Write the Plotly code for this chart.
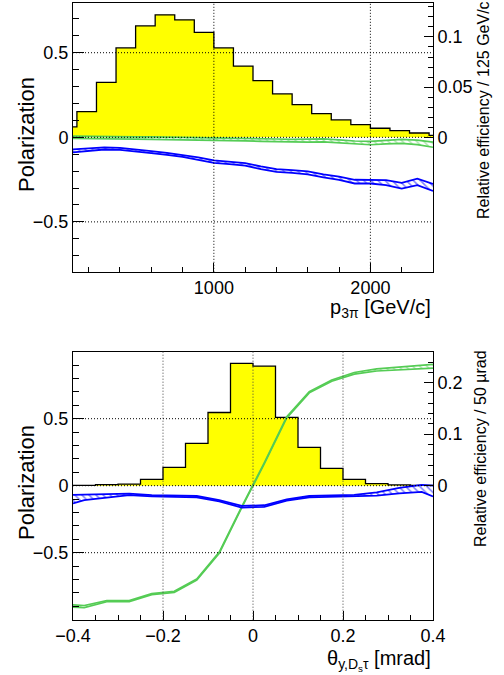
import numpy as np
import plotly.graph_objects as go

# ---------------- top panel data (p_3pi) ----------------
p_bin_lo = 0.0
p_bin_w = 125.0
eff_p = [0.0103, 0.0256, 0.0547, 0.089, 0.111, 0.122, 0.117, 0.1046, 0.089, 0.071,
         0.0564, 0.0432, 0.0325, 0.0236, 0.0173, 0.0126, 0.009, 0.0066, 0.0043, 0.002]
p_pts = [100, 200, 300, 400, 500, 600, 700, 800, 900, 1000, 1100, 1200,
         1300, 1400, 1500, 1600, 1700, 1800, 1900, 2000, 2100, 2200, 2300, 2400]
pol_blue_p = [-0.08, -0.072, -0.066, -0.068, -0.076, -0.088, -0.098, -0.11, -0.126, -0.144, -0.152, -0.16,
              -0.18, -0.196, -0.202, -0.21, -0.228, -0.242, -0.262, -0.262, -0.268, -0.286, -0.264, -0.296]
err_blue_p = [0.009, 0.007, 0.006, 0.006, 0.006, 0.006, 0.006, 0.006, 0.007, 0.007, 0.007, 0.007,
              0.008, 0.008, 0.008, 0.009, 0.009, 0.01, 0.011, 0.011, 0.015, 0.017, 0.019, 0.021]
pol_green_p = [0.0, 0.0, -0.002, -0.003, -0.004, -0.005, -0.006, -0.007, -0.008, -0.01, -0.012, -0.014,
               -0.016, -0.018, -0.02, -0.02, -0.018, -0.024, -0.032, -0.034, -0.028, -0.024, -0.03, -0.044]
err_green_p = [0.007, 0.007, 0.007, 0.007, 0.007, 0.007, 0.007, 0.007, 0.007, 0.007, 0.007, 0.007,
               0.008, 0.008, 0.008, 0.008, 0.009, 0.009, 0.01, 0.01, 0.011, 0.012, 0.013, 0.015]

# ---------------- bottom panel data (theta) ----------------
t_bin_lo = -0.4
t_bin_w = 0.05
eff_t = [0.0005, 0.002, 0.0032, 0.0123, 0.0356, 0.082, 0.142, 0.2375,
         0.232, 0.1327, 0.0744, 0.0336, 0.0123, 0.0039, 0.0015, 0.0006]
t_pts = [-0.4, -0.375, -0.325, -0.275, -0.225, -0.175, -0.125, -0.075, -0.025,
         0.025, 0.075, 0.125, 0.175, 0.225, 0.275, 0.325, 0.375, 0.4]
pol_green_t = [-0.898, -0.902, -0.862, -0.862, -0.809, -0.792, -0.70, -0.50, -0.16,
               0.167, 0.51, 0.697, 0.784, 0.839, 0.864, 0.876, 0.888, 0.892]
err_green_t = [0.008, 0.008, 0.004, 0.004, 0.004, 0.004, 0.004, 0.004, 0.004,
               0.004, 0.004, 0.004, 0.005, 0.006, 0.008, 0.01, 0.012, 0.014]
pol_blue_t = [-0.1, -0.087, -0.077, -0.065, -0.075, -0.077, -0.082, -0.112, -0.157,
              -0.152, -0.107, -0.082, -0.077, -0.075, -0.062, -0.037, -0.02, -0.04]
err_blue_t = [0.032, 0.02, 0.012, 0.006, 0.005, 0.005, 0.005, 0.005, 0.006,
              0.006, 0.005, 0.005, 0.005, 0.006, 0.012, 0.02, 0.026, 0.04]

BLUE = "#0000ff"
GREEN = "#55cc55"
YELLOW = "#ffff00"
FONT = "Liberation Sans, Arial, sans-serif"

fig = go.Figure()


def add_hist(lo, w, vals, xa, ya):
    n = len(vals)
    edges = [lo + w * i for i in range(n + 1)]
    xs = [edges[0]] + edges[:-1] + [edges[-1], edges[-1]]
    ys = [0.0] + list(vals) + [vals[-1], 0.0]
    fig.add_trace(go.Scatter(x=xs, y=ys, mode="lines", line=dict(color="black", width=1.3, shape="hv"),
                             fill="tozeroy", fillcolor=YELLOW, xaxis=xa, yaxis=ya,
                             showlegend=False, hoverinfo="skip"))


def add_band(x, c, e, color, xa, ya, lw, hatch):
    c = np.array(c); e = np.array(e)
    fig.add_trace(go.Scatter(x=x, y=c - e, mode="lines", line=dict(color=color, width=lw),
                             xaxis=xa, yaxis=ya, showlegend=False, hoverinfo="skip"))
    fig.add_trace(go.Scatter(x=x, y=c + e, mode="lines", line=dict(color=color, width=lw),
                             fill="tonexty", fillcolor="rgba(0,0,0,0)",
                             fillpattern=dict(shape=hatch, fgcolor=color, bgcolor="rgba(0,0,0,0)",
                                              size=5, solidity=0.3),
                             xaxis=xa, yaxis=ya, showlegend=False, hoverinfo="skip"))


# top
add_hist(p_bin_lo, p_bin_w, eff_p, "x", "y")
add_band(p_pts, pol_green_p, err_green_p, GREEN, "x", "y2", 1.7, "\\")
add_band(p_pts, pol_blue_p, err_blue_p, BLUE, "x", "y2", 1.8, "\\")
# bottom
add_hist(t_bin_lo, t_bin_w, eff_t, "x2", "y3")
add_band(t_pts, pol_green_t, err_green_t, GREEN, "x2", "y4", 1.7, "\\")
add_band(t_pts, pol_blue_t, err_blue_t, BLUE, "x2", "y4", 1.8, "\\")

H = 675.0
top_dom = [1 - 271.8 / H, 1 - 2.8 / H]
bot_dom = [1 - 619.7 / H, 1 - 351.7 / H]

tickfont = dict(family=FONT, size=18, color="black")
common_x = dict(showline=True, linecolor="black", linewidth=1, mirror=True, ticks="inside",
                ticklen=9, tickcolor="black", showgrid=False, zeroline=False, tickfont=tickfont)
common_pol = dict(showline=True, linecolor="black", linewidth=1, ticks="inside", ticklen=11,
                  tickcolor="black", showgrid=False, zeroline=False, tickfont=tickfont, side="left",
                  tickvals=[-0.5, 0, 0.5],
                  minor=dict(dtick=0.1, tick0=0, ticks="inside", ticklen=6, tickcolor="black"))
common_eff = dict(showline=True, linecolor="black", linewidth=1, ticks="inside", ticklen=9,
                  tickcolor="black", showgrid=False, zeroline=False, tickfont=tickfont, side="right")

p_xticks = [1000, 2000]
t_xticks = [-0.4, -0.2, 0, 0.2, 0.4]
eff_p_ticks = [0, 0.05, 0.1]
eff_t_ticks = [0, 0.1, 0.2]

fig.update_layout(
    width=504, height=675,
    margin=dict(l=73, r=71, t=0, b=0),
    paper_bgcolor="white", plot_bgcolor="white",
    font=dict(family=FONT, color="black"),
    xaxis=dict(domain=[0, 1], anchor="y", range=[100, 2400], tickvals=p_xticks,
               minor=dict(dtick=200, tick0=0, ticks="inside", ticklen=5, tickcolor="black"), **common_x),
    yaxis=dict(domain=top_dom, anchor="x", range=[-0.134, 0.134], tickvals=eff_p_ticks,
               minor=dict(tickvals=[round(0.01 * i, 2) for i in range(14)], ticks="inside",
                          ticklen=5, tickcolor="black"), **common_eff),
    yaxis2=dict(overlaying="y", anchor="x", range=[-0.795, 0.795], **common_pol),
    xaxis2=dict(domain=[0, 1], anchor="y3", range=[-0.4, 0.4], tickvals=t_xticks,
                minor=dict(dtick=0.05, tick0=0, ticks="inside", ticklen=5, tickcolor="black"), **common_x),
    yaxis3=dict(domain=bot_dom, anchor="x2", range=[-0.26, 0.26], tickvals=eff_t_ticks,
                minor=dict(tickvals=[round(0.02 * i, 2) for i in range(14)], ticks="inside",
                           ticklen=5, tickcolor="black"), **common_eff),
    yaxis4=dict(overlaying="y3", anchor="x2", range=[-1.0, 1.0], **common_pol),
)

# dotted grid drawn above the filled histogram
shapes = []
for v in p_xticks:
    shapes.append(dict(type="line", xref="x", yref="y domain", x0=v, x1=v, y0=0, y1=1,
                       line=dict(color="black", width=1, dash="1px,2px"), layer="above"))
for v in [-0.5, 0, 0.5]:
    shapes.append(dict(type="line", xref="x domain", yref="y2", x0=0, x1=1, y0=v, y1=v,
                       line=dict(color="black", width=1, dash="1px,2px"), layer="above"))
for v in t_xticks[1:-1]:
    shapes.append(dict(type="line", xref="x2", yref="y3 domain", x0=v, x1=v, y0=0, y1=1,
                       line=dict(color="#444444", width=1, dash="1px,2px"), layer="above"))
for v in [-0.5, 0, 0.5]:
    shapes.append(dict(type="line", xref="x2 domain", yref="y4", x0=0, x1=1, y0=v, y1=v,
                       line=dict(color="black", width=1, dash="1px,2px"), layer="above"))
fig.update_layout(shapes=shapes)

W = 360.0
def px(xp):
    return (xp - 73) / W
def py(yp):
    return 1 - yp / H

def title(text, x, y, angle, size, xa="center", ya="middle"):
    return dict(text=text, x=x, y=y, xref="paper", yref="paper", textangle=angle,
                xanchor=xa, yanchor=ya, showarrow=False,
                font=dict(family=FONT, size=size, color="black"))

ann = [
    title("Polarization", px(27), py(135), -90, 22),
    title("Polarization", px(27), py(483), -90, 22),
    title("Relative efficiency / 125 GeV/c", px(483), py(110), -90, 16),
    title("Relative efficiency / 50 µrad", px(480), py(449), -90, 16),
    title("p<sub>3π</sub> [GeV/c]", 1.0, py(294), 0, 20, xa="right", ya="top"),
    title("θ<sub>y,D<sub>s</sub>τ</sub> [mrad]", 1.0, py(645), 0, 20, xa="right", ya="top"),
]
fig.update_layout(annotations=ann)

fig.write_html("out.html", config={"displayModeBar": False},
               post_script="document.body.style.margin='0';document.body.style.overflow='hidden';")
